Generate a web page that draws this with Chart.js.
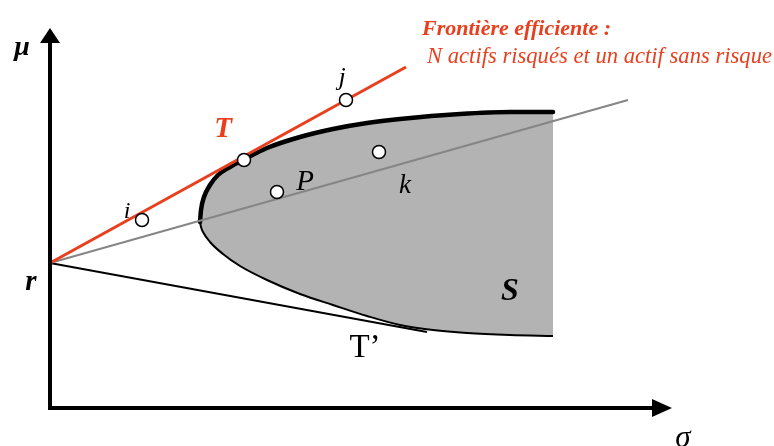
<!DOCTYPE html>
<html>
<head>
<meta charset="utf-8">
<script src="https://cdn.jsdelivr.net/npm/chart.js@4/dist/chart.umd.min.js"></script>
<style>
  html, body { margin: 0; padding: 0; background: #fff; }
  #wrap { width: 774px; height: 446px; }
</style>
</head>
<body>
<div id="wrap"><canvas id="graph"></canvas></div>
<script>
// -------------------------
// DATA (sigma = risk, mu = return, origin at the axes corner)
// -------------------------
const riskFreeSigma = 0;
const riskFreeMu = 145;

// border of the set S of risky portfolios
const upperSigma = [150, 151, 154, 160, 168, 180, 194, 217, 250, 283, 317, 350, 410, 460, 503];
const upperMu    = [186, 198, 211, 223, 233, 241, 248.5, 260, 271, 279, 285, 289, 294, 296, 296];
const lowerSigma = [150, 151, 153, 160, 173, 190, 217, 250, 283, 317, 350, 383, 417, 460, 503];
const lowerMu    = [186, 181, 176, 166, 154, 142, 128, 114, 103, 92, 83, 78, 75, 73, 72];

// assets / portfolios drawn as small circles
const assetNames = ["i", "T", "j", "P", "k"];
const assetSigma = [92, 194, 296, 227, 329];
const assetMu    = [188, 248, 308, 216, 256];

// lines leaving r : efficient frontier (through T), line through P and k, line T'
const rayNames    = ["frontier", "rP", "T'"];
const rayEndSigma = [356, 578, 377];
const rayEndMu    = [341, 308, 76];

// axes (start, end of the shaft, tip of the arrow)
const axisSigma = [-2, 602, 622];
const axisMu    = [-2, 365, 380];

// texts
const titleLines = ["Frontière efficiente :", "N actifs risqués et un actif sans risque"];
const labelTexts = ["μ", "r", "i", "T", "j", "P", "k", "S", "T’", "σ"];

// -------------------------
// STYLE
// -------------------------
const RED = "#e8401f";
const SERIF = "'Liberation Serif', 'DejaVu Serif', serif";

const labelStyle = [
  { s: -28, m: 353, font: "bold italic 28px " + SERIF, color: "#000", align: "center" },
  { s: -19, m: 118, font: "bold italic 29px " + SERIF, color: "#000", align: "center" },
  { s: 77,  m: 190, font: "italic 24px " + SERIF, color: "#000", align: "center" },
  { s: 173, m: 271, font: "bold italic 29px " + SERIF, color: RED, align: "center" },
  { s: 292, m: 323, font: "italic 26px " + SERIF, color: "#000", align: "center" },
  { s: 255, m: 218, font: "italic 29px " + SERIF, color: "#000", align: "center" },
  { s: 355, m: 215, font: "italic 27px " + SERIF, color: "#000", align: "center" },
  { s: 460, m: 108, font: "bold italic 32px " + SERIF, color: "#000", align: "center" },
  { s: 315, m: 51,  font: "33px " + SERIF, color: "#000", align: "center" },
  { s: 633, m: -39, font: "italic 31px " + SERIF, color: "#000", align: "center" }
];
const titleStyle = [
  { s: 372, m: 373, font: "bold italic 22px " + SERIF, width: 194 },
  { s: 377, m: 345, font: "italic 24px " + SERIF, width: 345 }
];

function pts(xs, ys) {
  return xs.map((x, i) => ({ x: x, y: ys[i] }));
}

// -------------------------
// PLUGIN : arrows + texts
// -------------------------
const decorPlugin = {
  id: "decor",
  afterDatasetsDraw(chart) {
    const ctx = chart.ctx;
    const sx = chart.scales.x, sy = chart.scales.y;
    const X = v => sx.getPixelForValue(v);
    const Y = v => sy.getPixelForValue(v);

    ctx.save();
    ctx.fillStyle = "#000";
    // arrow of the sigma axis
    ctx.beginPath();
    ctx.moveTo(X(axisSigma[2]), Y(0));
    ctx.lineTo(X(axisSigma[1]), Y(0) - 9);
    ctx.lineTo(X(axisSigma[1]), Y(0) + 9);
    ctx.closePath();
    ctx.fill();
    // arrow of the mu axis
    ctx.beginPath();
    ctx.moveTo(X(0), Y(axisMu[2]));
    ctx.lineTo(X(0) - 10, Y(axisMu[1]));
    ctx.lineTo(X(0) + 10, Y(axisMu[1]));
    ctx.closePath();
    ctx.fill();

    ctx.textBaseline = "alphabetic";
    labelTexts.forEach((t, i) => {
      const st = labelStyle[i];
      ctx.font = st.font;
      ctx.fillStyle = st.color;
      ctx.textAlign = st.align;
      ctx.fillText(t, X(st.s), Y(st.m));
    });

    ctx.fillStyle = RED;
    ctx.textAlign = "left";
    titleLines.forEach((t, i) => {
      const st = titleStyle[i];
      ctx.font = st.font;
      ctx.fillText(t, X(st.s), Y(st.m), st.width);
    });
    ctx.restore();
  }
};

// -------------------------
// INIT CHART
// -------------------------
const ctx = document.getElementById("graph").getContext("2d");

new Chart(ctx, {
  type: "line",
  data: {
    datasets: [
      {
        // upper border of S, filled down to the lower border
        data: pts(upperSigma, upperMu),
        borderColor: "#000",
        borderWidth: 4.5,
        borderCapStyle: "round",
        backgroundColor: "#b3b3b3",
        fill: "+1",
        cubicInterpolationMode: "monotone",
        pointRadius: 0,
        order: 10
      },
      {
        data: pts(lowerSigma, lowerMu),
        borderColor: "#000",
        borderWidth: 2,
        fill: false,
        cubicInterpolationMode: "monotone",
        pointRadius: 0,
        order: 9
      },
      {
        data: pts([riskFreeSigma, rayEndSigma[1]], [riskFreeMu, rayEndMu[1]]),
        borderColor: "#858585",
        borderWidth: 2,
        pointRadius: 0,
        order: 5
      },
      {
        data: pts([riskFreeSigma, rayEndSigma[2]], [riskFreeMu, rayEndMu[2]]),
        borderColor: "#000",
        borderWidth: 2,
        pointRadius: 0,
        order: 5
      },
      {
        data: pts([riskFreeSigma, rayEndSigma[0]], [riskFreeMu, rayEndMu[0]]),
        borderColor: RED,
        borderWidth: 3,
        pointRadius: 0,
        order: 4
      },
      {
        // axes
        data: pts([axisSigma[0], axisSigma[1]], [0, 0]),
        borderColor: "#000",
        borderWidth: 4,
        pointRadius: 0,
        order: 3
      },
      {
        data: pts([0, 0], [axisMu[0], axisMu[1]]),
        borderColor: "#000",
        borderWidth: 4,
        pointRadius: 0,
        order: 3
      },
      {
        data: pts(assetSigma, assetMu),
        showLine: false,
        pointRadius: 6.5,
        pointBackgroundColor: "#fff",
        pointBorderColor: "#000",
        pointBorderWidth: 1.5,
        order: 0
      }
    ]
  },
  options: {
    responsive: true,
    maintainAspectRatio: false,
    animation: false,
    events: [],
    layout: { padding: 0, autoPadding: false },
    plugins: { legend: { display: false }, tooltip: { enabled: false } },
    scales: {
      x: { type: "linear", min: -50, max: 724, display: false },
      y: { type: "linear", min: -38, max: 408, display: false }
    },
    elements: { line: { clip: false } }
  },
  plugins: [decorPlugin]
});
</script>
</body>
</html>
